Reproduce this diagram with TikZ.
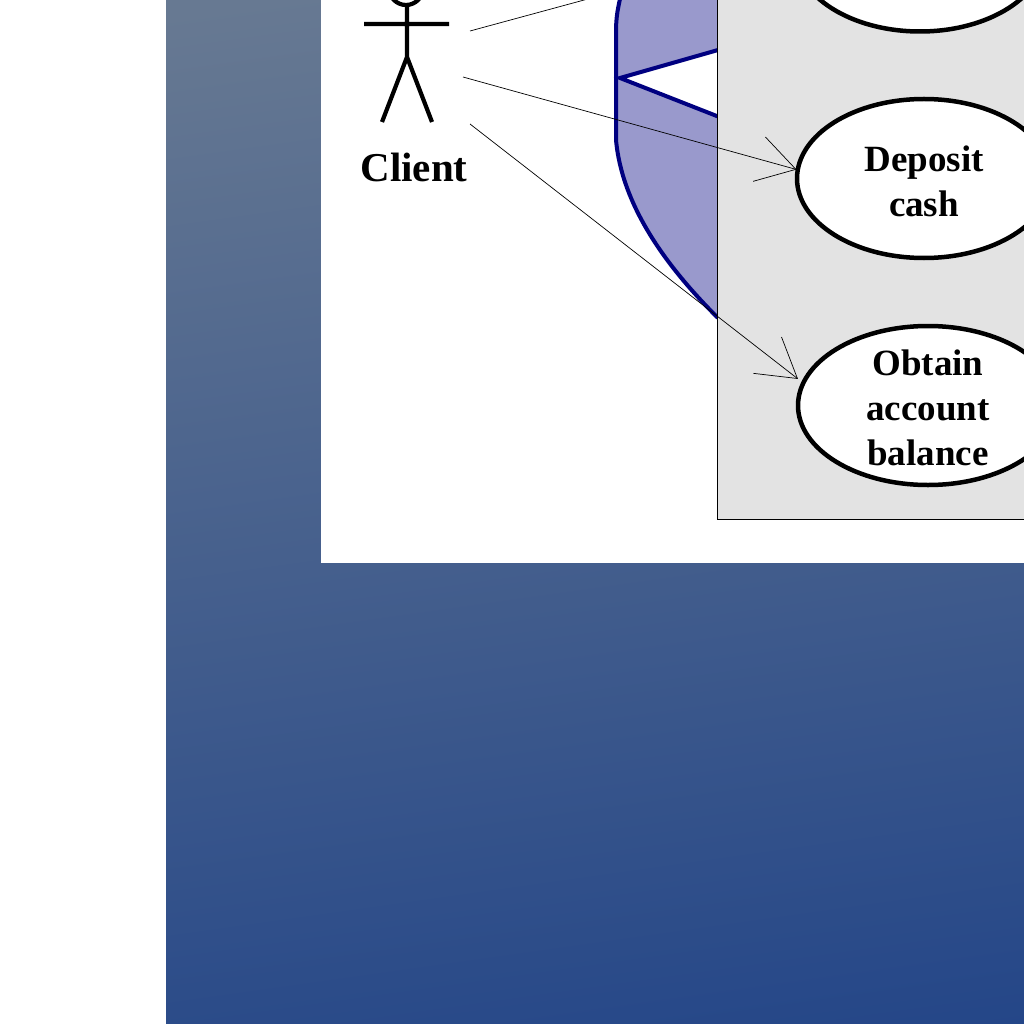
\documentclass[tikz,border=0pt]{standalone}
\usepackage{fontspec}
\setmainfont{Liberation Serif}
\usetikzlibrary{arrows.meta, shapes.geometric}

\definecolor{paneltop}{RGB}{103,121,146}
\definecolor{panelbottom}{RGB}{36,70,136}
\definecolor{crescent}{RGB}{153,153,204}
\definecolor{crescentline}{RGB}{0,0,128}
\definecolor{wall}{RGB}{227,227,227}

\begin{document}
\begin{tikzpicture}[x=1pt, y=-1pt, >={Straight Barb[length=38pt,width=46pt,line width=0.7pt]}]
\tikzstyle{usecase}=[ellipse,draw=black,fill=white,line width=4.5pt,inner sep=-20pt,minimum height=159pt,align=center,font=\fontsize{37}{45}\selectfont\bfseries]
\tikzstyle{actor}=[line width=4.2pt]
\tikzstyle{assoc}=[->,line width=0.7pt,black]
\path[use as bounding box,clip] (0,0) rectangle (1024,1024);
% backdrop
\shade[top color=paneltop,bottom color=panelbottom,shading angle=8] (166,-60) rectangle (1100,1090);
\fill[white] (321,0) rectangle (1024,563);
% crescent
\path[fill=crescent,draw=crescentline,line width=4pt] (717,317) .. controls (665,265) and (622,205) .. (616,140)
  -- (616,33) .. controls (616,15) and (618,8) .. (622,-10) -- (760,-10) -- (760,317) -- cycle;
\path[fill=white,draw=crescentline,line width=4pt] (760,38) -- (620,78) -- (760,133);
\path[draw=black,fill=wall,line width=0.8pt] (717,-10) rectangle (1040,519);
% actor
\draw[actor] (406,-12) circle (17);
\draw[actor] (407,5) -- (407,57) (364,24) -- (449,24) (382,122) -- (407,57) -- (432,122);
\node (client) at (414,167.5) {\fontsize{41}{45}\selectfont\bfseries Client};
% use cases
\node[usecase,minimum width=250pt] (withdraw) at (920,-48) {};
\node[usecase,minimum width=254pt] (deposit) at (924,178.5) {\rule{0pt}{31pt}Deposit\\cash};
\node[usecase,minimum width=260pt] (balance) at (928,405.5) {\rule{0pt}{31pt}Obtain\\account\\balance};
% associations
\coordinate (c1) at (470,31);
\coordinate (c2) at (463,77);
\coordinate (c3) at (470,124);
\path[assoc]
(c1) edge (withdraw.176)
(c2) edge ([xshift=1pt]deposit.176)
(c3) edge ([xshift=-5pt]balance.168);
\end{tikzpicture}
\end{document}
